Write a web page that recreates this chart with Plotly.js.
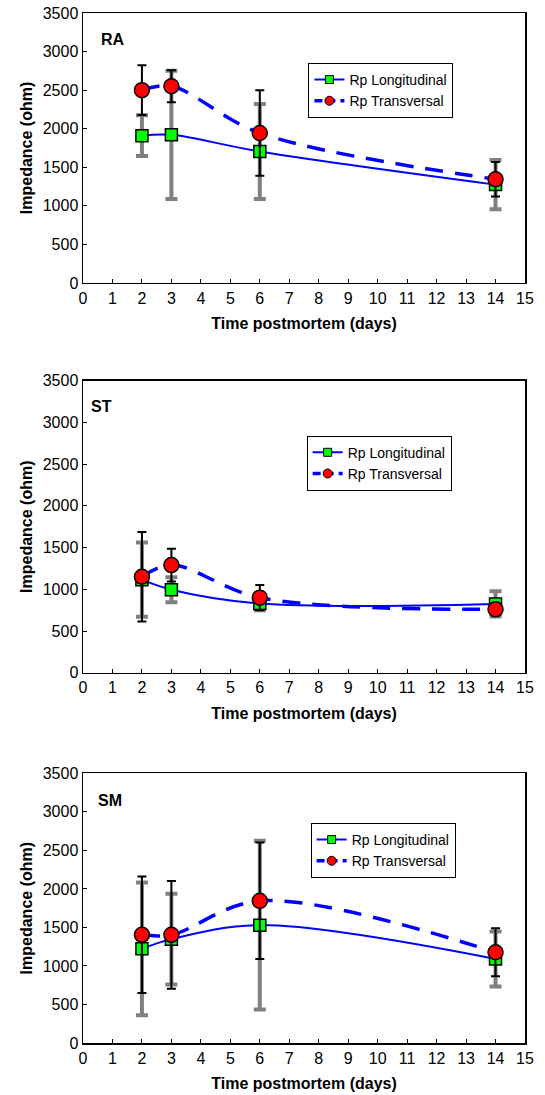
<!DOCTYPE html>
<html>
<head>
<meta charset="utf-8">
<script src="https://cdn.plot.ly/plotly-3.0.1.min.js"></script>
<style>html,body{margin:0;padding:0;background:#fff;}#chart{width:545px;height:1095px;}</style>
</head>
<body>
<div id="chart"></div>
<script>
// Data
var days = [2, 3, 6, 14];
var panelNames = ['RA', 'ST', 'SM'];
var seriesNames = ['Rp Longitudinal', 'Rp Transversal'];

var raLong = [1910, 1920, 1705, 1275];
var raLongErr = [265, 830, 615, 318];
var raTrans = [2500, 2550, 1944, 1345];
var raTransErr = [324, 207, 553, 223];

var stLong = [1115, 995, 830, 825];
var stLongErr = [445, 150, 80, 150];
var stTrans = [1150, 1290, 900, 760];
var stTransErr = [536, 196, 150, 60];

var smLong = [1222, 1348, 1530, 1090];
var smLongErr = [862, 590, 1095, 357];
var smTrans = [1404, 1404, 1845, 1178];
var smTransErr = [756, 700, 756, 311];

var xTickVals = [0,1,2,3,4,5,6,7,8,9,10,11,12,13,14,15];
var yTickVals = [0,500,1000,1500,2000,2500,3000,3500];

var FONT = 'Liberation Sans, Arial, Helvetica, sans-serif';
var BLUE = '#0000FF';

var panels = [
  {long: raLong, longErr: raLongErr, trans: raTrans, transErr: raTransErr},
  {long: stLong, longErr: stLongErr, trans: stTrans, transErr: stTransErr},
  {long: smLong, longErr: smLongErr, trans: smTrans, transErr: smTransErr}
];

var longLine = {color: BLUE, width: 2, shape: 'spline', smoothing: 1};
var transLine = {color: BLUE, width: 3.5, dash: '18px,12px', shape: 'spline', smoothing: 1};

var traces = [];
panels.forEach(function(p, i) {
  var sfx = i === 0 ? '' : String(i + 1);
  var leg = 'legend' + sfx;
  traces.push({
    x: days, y: p.long, type: 'scatter', mode: 'lines+markers',
    name: seriesNames[0], xaxis: 'x' + sfx, yaxis: 'y' + sfx, showlegend: false,
    line: longLine,
    marker: {symbol: 'square', size: 12, color: '#00FF00', line: {color: '#000', width: 1.5}},
    error_y: {type: 'data', array: p.longErr, visible: true, color: '#808080', thickness: 4, width: 6}
  });
  traces.push({
    x: days, y: p.trans, type: 'scatter', mode: 'lines+markers',
    name: seriesNames[1], xaxis: 'x' + sfx, yaxis: 'y' + sfx, showlegend: false,
    line: transLine,
    marker: {symbol: 'circle', size: 15, color: '#FF0000', line: {color: '#000', width: 1.5}},
    error_y: {type: 'data', array: p.transErr, visible: true, color: '#000000', thickness: 2, width: 4.5}
  });
  // legend entries (smaller legend symbols, as in the reference)
  traces.push({
    x: [null], y: [null], type: 'scatter', mode: 'lines+markers',
    name: seriesNames[0], xaxis: 'x' + sfx, yaxis: 'y' + sfx, legend: leg, showlegend: true,
    line: {color: BLUE, width: 2},
    marker: {symbol: 'square', size: 8, color: '#00FF00', line: {color: '#000', width: 1}}
  });
  traces.push({
    x: [null], y: [null], type: 'scatter', mode: 'lines+markers',
    name: seriesNames[1], xaxis: 'x' + sfx, yaxis: 'y' + sfx, legend: leg, showlegend: true,
    line: {color: BLUE, width: 3.5, dash: '8px,5px'},
    marker: {symbol: 'circle', size: 9, color: '#FF0000', line: {color: '#000', width: 1}}
  });
});

function xax(anchor) {
  return {
    anchor: anchor, domain: [0, 1], range: [0, 15], tickvals: xTickVals,
    ticks: 'inside', ticklen: 4, tickwidth: 1, tickcolor: '#000',
    showline: true, mirror: true, linecolor: '#000', linewidth: 1.5,
    showgrid: false, zeroline: false,
    tickfont: {family: FONT, size: 16, color: '#000'},
    title: {text: '<b>Time postmortem (days)</b>', font: {family: FONT, size: 16, color: '#000'}, standoff: 12},
    fixedrange: true
  };
}
function yax(anchor, dom) {
  return {
    anchor: anchor, domain: dom, range: [0, 3500], tickvals: yTickVals,
    ticks: 'inside', ticklen: 4, tickwidth: 1, tickcolor: '#000',
    showline: true, mirror: true, linecolor: '#000', linewidth: 1.5,
    showgrid: false, zeroline: false,
    tickfont: {family: FONT, size: 16, color: '#000'},
    title: {text: '<b>Impedance (ohm)</b>', font: {family: FONT, size: 16, color: '#000'}, standoff: 6},
    fixedrange: true
  };
}
function legendAt(x, y) {
  return {
    x: x, y: y, xanchor: 'left', yanchor: 'top', xref: 'paper', yref: 'paper',
    bgcolor: '#fff', bordercolor: '#000', borderwidth: 1,
    font: {family: FONT, size: 14, color: '#000'}, tracegroupgap: 0
  };
}

var layout = {
  width: 545, height: 1095,
  margin: {l: 83, r: 20, t: 13, b: 52},
  paper_bgcolor: '#fff', plot_bgcolor: '#fff',
  font: {family: FONT, color: '#000'},
  showlegend: true,
  xaxis: xax('y'), yaxis: yax('x', [0.7379, 1]),
  xaxis2: xax('y2'), yaxis2: yax('x2', [0.3595, 0.643]),
  xaxis3: xax('y3'), yaxis3: yax('x3', [0, 0.2618]),
  legend: legendAt(0.51, 0.9515),
  legend2: legendAt(0.506, 0.5896),
  legend3: legendAt(0.515, 0.2136),
  annotations: [
    {text: '<b>' + panelNames[0] + '</b>', xref: 'x domain', yref: 'y domain', x: 0.036, y: 0.9, xanchor: 'left', yanchor: 'middle', showarrow: false, font: {family: FONT, size: 16, color: '#000'}},
    {text: '<b>' + panelNames[1] + '</b>', xref: 'x2 domain', yref: 'y2 domain', x: 0.0135, y: 0.91, xanchor: 'left', yanchor: 'middle', showarrow: false, font: {family: FONT, size: 16, color: '#000'}},
    {text: '<b>' + panelNames[2] + '</b>', xref: 'x3 domain', yref: 'y3 domain', x: 0.029, y: 0.9, xanchor: 'left', yanchor: 'middle', showarrow: false, font: {family: FONT, size: 16, color: '#000'}}
  ]
};

Plotly.newPlot('chart', traces, layout, {displayModeBar: false, staticPlot: true});
</script>
</body>
</html>
